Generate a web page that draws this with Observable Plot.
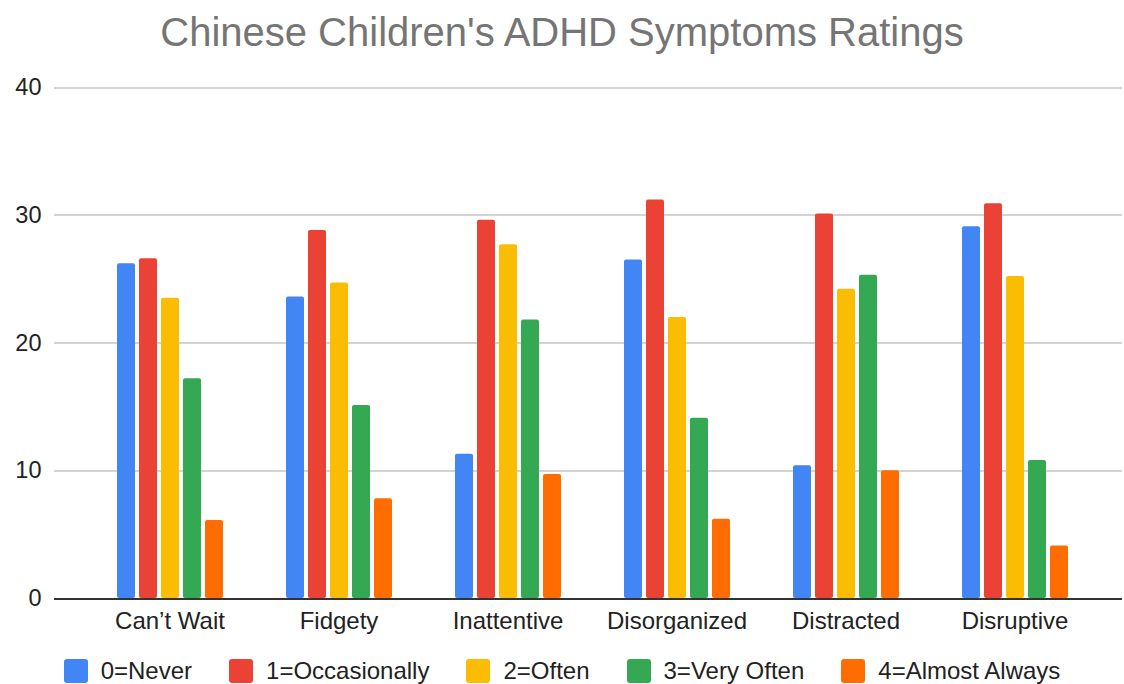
<!DOCTYPE html>
<html>
<head>
<meta charset="utf-8">
<script src="https://cdn.jsdelivr.net/npm/d3@7"></script>
<script src="https://cdn.jsdelivr.net/npm/@observablehq/plot@0.6"></script>
<style>
  html, body { margin: 0; padding: 0; background: #fff; }
  body { width: 1124px; height: 684px; overflow: hidden; font-family: "Liberation Sans", Arial, sans-serif; }
  #title { height: 62px; line-height: 64px; text-align: center; font-size: 40px; color: #757575; white-space: nowrap; }
  #legend { height: 38px; display: flex; justify-content: center; align-items: center; font-size: 24px; color: #222; }
  .item { display: flex; align-items: center; margin: 0 18.5px; }
  .sw { width: 24px; height: 24px; border-radius: 3px; margin-right: 13px; }
</style>
</head>
<body>
<div id="title">Chinese Children's ADHD Symptoms Ratings</div>
<div id="chart"></div>
<div id="legend"></div>
<script>
const symptoms = ["Can’t Wait", "Fidgety", "Inattentive", "Disorganized", "Distracted", "Disruptive"];
const ratings = ["0=Never", "1=Occasionally", "2=Often", "3=Very Often", "4=Almost Always"];
const colors = ["#4285F4", "#EA4335", "#FBBC04", "#34A853", "#FF6D01"];
const never        = [26.2, 23.6, 11.3, 26.5, 10.4, 29.1];
const occasionally = [26.6, 28.8, 29.6, 31.2, 30.1, 30.9];
const often        = [23.5, 24.7, 27.7, 22.0, 24.2, 25.2];
const veryOften    = [17.2, 15.1, 21.8, 14.1, 25.3, 10.8];
const almostAlways = [6.1, 7.8, 9.7, 6.2, 10.0, 4.1];
const yTicks = [0, 10, 20, 30, 40];

const series = [never, occasionally, often, veryOften, almostAlways];
const data = [];
symptoms.forEach((s, i) => series.forEach((vals, j) => data.push({symptom: s, rating: ratings[j], value: vals[i]})));

const chart = Plot.plot({
  width: 1124,
  height: 590,
  marginLeft: 52,
  marginRight: 0,
  marginTop: 25,
  marginBottom: 54,
  style: {fontFamily: "'Liberation Sans', Arial, sans-serif", fontSize: "23.5px", color: "#222", background: "#fff"},
  fx: {domain: symptoms, range: [83, 1101], padding: 0, label: null},
  x: {domain: ratings, paddingInner: 0.2, paddingOuter: 1.44, axis: null},
  y: {domain: [0, 40], axis: null},
  color: {domain: ratings, range: colors},
  marks: [
    Plot.ruleY(yTicks.slice(1), {stroke: "#d3d3d3", strokeWidth: 2, shapeRendering: "crispEdges", insetLeft: -31, insetRight: -23}),
    Plot.barY(data, {fx: "symptom", x: "rating", y: "value", fill: "rating", rx: 2}),
    Plot.ruleY([0], {stroke: "#333333", strokeWidth: 2, shapeRendering: "crispEdges", insetLeft: -31, insetRight: -23}),
    Plot.text(yTicks, {fx: () => symptoms[0], y: d => d, frameAnchor: "left", dx: -44, textAnchor: "end", fill: "#222"}),
    Plot.axisFx({anchor: "bottom", tickSize: 0, tickPadding: 13, label: null, fill: "#222", fontSize: 24})
  ]
});
document.getElementById("chart").appendChild(chart);

const legend = document.getElementById("legend");
ratings.forEach((r, i) => {
  const item = document.createElement("div");
  item.className = "item";
  const sw = document.createElement("div");
  sw.className = "sw";
  sw.style.background = colors[i];
  const lab = document.createElement("span");
  lab.textContent = r;
  item.appendChild(sw);
  item.appendChild(lab);
  legend.appendChild(item);
});
</script>
</body>
</html>
